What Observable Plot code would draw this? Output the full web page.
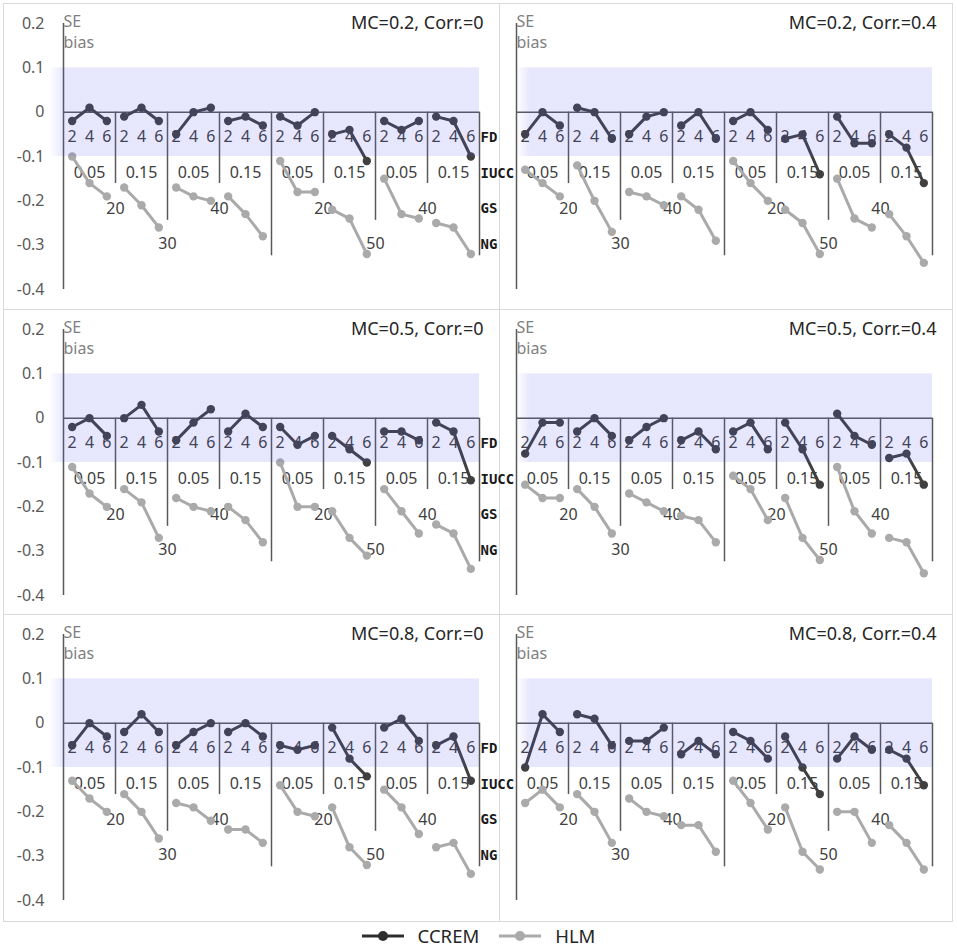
<!DOCTYPE html>
<html><head><meta charset="utf-8">
<script src="https://cdn.jsdelivr.net/npm/d3@7"></script>
<script src="https://cdn.jsdelivr.net/npm/@observablehq/plot@0.6"></script>
<style>
body{margin:0;background:#fff;font-family:"Noto Sans",sans-serif;}
#root{position:relative;width:957px;height:947px;overflow:hidden;background:#fff;}
.frame{position:absolute;box-sizing:border-box;border:1px solid #d9d9d9;}
.panel{position:absolute;}
.panel svg{overflow:visible;background:transparent;}
#legend{position:absolute;left:0;top:925px;width:957px;height:22px;display:flex;justify-content:center;align-items:center;font-size:18.5px;line-height:22px;color:#262626;font-family:"Noto Sans",sans-serif;}
#legend .item{display:flex;align-items:center;}
</style></head><body><div id="root"></div>
<script>
// ---- category levels (outer to inner: NG, GS, IUCC, FD) ----
const ngLevels = [30, 50];
const gsLevels = [20, 40];
const iuccLevels = ["0.05", "0.15"];
const fdLevels = [2, 4, 6];
const rowLabelNames = ["FD", "IUCC", "GS", "NG"];

const yTicks = [0.2, 0.1, 0, -0.1, -0.2, -0.3, -0.4];
const yTickLabels = ["0.2", "0.1", "0", "-0.1", "-0.2", "-0.3", "-0.4"];

const panelTitles = ["MC=0.2, Corr.=0", "MC=0.2, Corr.=0.4", "MC=0.5, Corr.=0", "MC=0.5, Corr.=0.4", "MC=0.8, Corr.=0", "MC=0.8, Corr.=0.4"];
const models = ["CCREM", "HLM"];

// ---- SE bias values, 24 per panel (order NG30: GS20 [.05 .15], GS40 [.05 .15]; NG50: ...) ----
const ccrem1 = [-0.02,0.01,-0.02, -0.01,0.01,-0.02, -0.05,0,0.01, -0.02,-0.01,-0.03, -0.01,-0.03,0, -0.05,-0.04,-0.11, -0.02,-0.04,-0.02, -0.01,-0.02,-0.10];
const hlm1   = [-0.10,-0.16,-0.19, -0.17,-0.21,-0.26, -0.17,-0.19,-0.20, -0.19,-0.23,-0.28, -0.11,-0.18,-0.18, -0.22,-0.24,-0.32, -0.15,-0.23,-0.24, -0.25,-0.26,-0.32];
const ccrem2 = [-0.05,0,-0.03, 0.01,0,-0.06, -0.05,-0.01,0, -0.03,0,-0.06, -0.02,0,-0.04, -0.06,-0.05,-0.14, -0.01,-0.07,-0.07, -0.05,-0.08,-0.16];
const hlm2   = [-0.13,-0.16,-0.19, -0.12,-0.20,-0.27, -0.18,-0.19,-0.21, -0.19,-0.22,-0.29, -0.11,-0.16,-0.20, -0.22,-0.25,-0.32, -0.15,-0.24,-0.26, -0.23,-0.28,-0.34];
const ccrem3 = [-0.02,0,-0.04, 0,0.03,-0.03, -0.05,-0.01,0.02, -0.03,0.01,-0.02, -0.02,-0.06,-0.04, -0.04,-0.07,-0.10, -0.03,-0.03,-0.05, -0.01,-0.03,-0.14];
const hlm3   = [-0.11,-0.17,-0.20, -0.16,-0.19,-0.27, -0.18,-0.20,-0.21, -0.20,-0.23,-0.28, -0.10,-0.20,-0.20, -0.21,-0.27,-0.31, -0.16,-0.21,-0.26, -0.24,-0.26,-0.34];
const ccrem4 = [-0.08,-0.01,-0.01, -0.03,0,-0.04, -0.05,-0.02,0, -0.05,-0.03,-0.07, -0.03,-0.01,-0.07, -0.01,-0.07,-0.15, 0.01,-0.04,-0.06, -0.09,-0.08,-0.15];
const hlm4   = [-0.15,-0.18,-0.18, -0.16,-0.20,-0.26, -0.17,-0.19,-0.21, -0.22,-0.23,-0.28, -0.13,-0.16,-0.23, -0.18,-0.27,-0.32, -0.11,-0.21,-0.26, -0.27,-0.28,-0.35];
const ccrem5 = [-0.05,0,-0.03, -0.02,0.02,-0.02, -0.05,-0.02,0, -0.02,0,-0.03, -0.05,-0.06,-0.05, -0.01,-0.08,-0.12, -0.01,0.01,-0.04, -0.05,-0.03,-0.13];
const hlm5   = [-0.13,-0.17,-0.20, -0.16,-0.20,-0.26, -0.18,-0.19,-0.22, -0.24,-0.24,-0.27, -0.14,-0.20,-0.21, -0.19,-0.28,-0.32, -0.15,-0.19,-0.25, -0.28,-0.27,-0.34];
const ccrem6 = [-0.10,0.02,-0.02, 0.02,0.01,-0.05, -0.04,-0.04,-0.01, -0.07,-0.04,-0.07, -0.02,-0.04,-0.08, -0.03,-0.10,-0.16, -0.08,-0.03,-0.06, -0.06,-0.08,-0.14];
const hlm6   = [-0.18,-0.15,-0.19, -0.16,-0.20,-0.27, -0.17,-0.20,-0.21, -0.23,-0.23,-0.29, -0.13,-0.18,-0.24, -0.19,-0.29,-0.33, -0.20,-0.20,-0.27, -0.23,-0.27,-0.33];

const ccremSeries = [ccrem1, ccrem2, ccrem3, ccrem4, ccrem5, ccrem6];
const hlmSeries = [hlm1, hlm2, hlm3, hlm4, hlm5, hlm6];

// ---- styling / layout ----
const colors = {CCREM: "#404040", HLM: "#aaaaaa"};
const colLeft = [3, 499], colWidth = [496, 453], colMarginLeft = [60, 17];
const rowTop = [3, 309, 614], rowFrameH = [307, 306, 308];
const svgH = 306;
const rowOffsets = [25, 61, 96.5, 132]; // px below the zero line for FD, IUCC, GS, NG label rows
const dividerEnds = {iucc: -0.161, gs: -0.244, ng: -0.324};

const root = document.getElementById("root");

// category table
const cats = [];
for (const ng of ngLevels) for (const gs of gsLevels) for (const iu of iuccLevels) for (const fd of fdLevels) {
  cats.push({ng, gs, iu, fd});
}
const nCat = cats.length;
const xMin = -0.5, xMax = nCat - 0.5;

// label tables
const fdLab = cats.map((c, i) => ({x: i, y: 0, t: String(c.fd)}));
const iuLab = [], gsLab = [], ngLab = [];
const iuDiv = [], gsDiv = [], ngDiv = [];
for (let g = 0; g < nCat / 3; g++) iuLab.push({x: g * 3 + 1, y: 0, t: cats[g * 3].iu});
for (let k = 0; k < nCat / 6; k++) {
  gsLab.push({x: k * 6 + 2.5, y: 0, t: String(cats[k * 6].gs)});
  iuDiv.push({x: k * 6 + 2.5});
}
for (let k = 0; k < nCat / 12; k++) {
  ngLab.push({x: k * 12 + 5.5, y: 0, t: String(cats[k * 12].ng)});
  gsDiv.push({x: k * 12 + 5.5});
  ngDiv.push({x: k * 12 + 11.5});
}

function makePanel(p) {
  const col = p % 2, row = Math.floor(p / 2);
  const W = colWidth[col], ML = colMarginLeft[col];
  const data = [];
  cats.forEach((c, i) => {
    data.push({idx: i, grp: Math.floor(i / 3), model: "HLM", value: hlmSeries[p][i]});
    data.push({idx: i, grp: Math.floor(i / 3), model: "CCREM", value: ccremSeries[p][i]});
  });
  const gid = "bandgrad" + p;
  const bandX1 = col === 0 ? -1.3 : xMin;
  const band = [{x1: bandX1, x2: xMax, y1: -0.1, y2: 0.1}];
  const txt = {fontSize: 16, fill: "#404040"};
  const marks = [
    Plot.text(fdLab, {x: "x", y: "y", text: "t", dy: rowOffsets[0], ...txt}),
    Plot.text(iuLab, {x: "x", y: "y", text: "t", dy: rowOffsets[1], ...txt}),
    Plot.text(gsLab, {x: "x", y: "y", text: "t", dy: rowOffsets[2], ...txt}),
    Plot.text(ngLab, {x: "x", y: "y", text: "t", dy: rowOffsets[3], ...txt}),
    Plot.ruleX(iuDiv, {x: "x", y1: 0, y2: dividerEnds.iucc, stroke: "#595959", strokeWidth: 1.5}),
    Plot.ruleX(gsDiv, {x: "x", y1: 0, y2: dividerEnds.gs, stroke: "#595959", strokeWidth: 1.5}),
    Plot.ruleX(ngDiv, {x: "x", y1: 0, y2: dividerEnds.ng, stroke: "#595959", strokeWidth: 1.5}),
    Plot.ruleY([0], {x1: xMin, x2: xMax, stroke: "#595959", strokeWidth: 1.5}),
    Plot.ruleX([xMin], {y1: yTicks[0], y2: yTicks[yTicks.length - 1], stroke: "#595959", strokeWidth: 1.5}),
  ];
  for (const m of ["HLM", "CCREM"]) {
    const d = data.filter(r => r.model === m);
    marks.push(Plot.line(d, {x: "idx", y: "value", z: "grp", stroke: colors[m], strokeWidth: 3}));
    marks.push(Plot.dot(d, {x: "idx", y: "value", r: 4.2, fill: colors[m], stroke: "none"}));
  }
  marks.push(Plot.rect(band, {x1: "x1", x2: "x2", y1: "y1", y2: "y2", fill: `url(#${gid})`}));
  marks.push(Plot.text([{x: xMax, y: yTicks[0], t: panelTitles[p]}], {x: "x", y: "y", text: "t", textAnchor: "end", dx: 4, fontSize: 18, fill: "#262626"}));
  marks.push(Plot.text([{x: xMin, y: yTicks[0], t: "SE\nbias"}], {x: "x", y: "y", text: "t", textAnchor: "start", lineAnchor: "middle", dy: 7, lineHeight: 1.3, fontSize: 16, fill: "#7f7f7f"}));
  if (col === 0) {
    marks.push(Plot.axisY({ticks: yTicks, tickFormat: d => yTickLabels[yTicks.indexOf(d)], tickSize: 0, tickPadding: 19, fontSize: 16, fill: "#595959", label: null}));
    rowLabelNames.forEach((name, k) => {
      marks.push(Plot.text([{x: xMax, y: 0, t: name}], {x: "x", y: "y", text: "t", dy: rowOffsets[k], dx: 1, textAnchor: "start", fontSize: 14, fontWeight: "bold", fontFamily: "DejaVu Sans Mono", fill: "#1a1a1a"}));
    });
  }
  const svg = Plot.plot({
    width: W, height: svgH,
    marginLeft: ML, marginRight: 20, marginTop: 20, marginBottom: 20,
    style: {fontFamily: "Noto Sans", background: "transparent", overflow: "visible"},
    x: {type: "linear", domain: [xMin, xMax], axis: null},
    y: {domain: [yTicks[yTicks.length - 1], yTicks[0]], axis: null},
    marks
  });
  // gradient for the band's soft left edge
  const NS = "http://www.w3.org/2000/svg";
  const defs = document.createElementNS(NS, "defs");
  const lg = document.createElementNS(NS, "linearGradient");
  lg.setAttribute("id", gid);
  lg.setAttribute("x1", "0"); lg.setAttribute("x2", "1"); lg.setAttribute("y1", "0"); lg.setAttribute("y2", "0");
  [[0, 0], [0.034, 0.14], [1, 0.14]].forEach(([o, a]) => {
    const s = document.createElementNS(NS, "stop");
    s.setAttribute("offset", o);
    s.setAttribute("stop-color", "rgb(80,80,240)");
    s.setAttribute("stop-opacity", a);
    lg.appendChild(s);
  });
  defs.appendChild(lg);
  svg.insertBefore(defs, svg.firstChild);

  const frame = document.createElement("div");
  frame.className = "frame";
  Object.assign(frame.style, {left: colLeft[col] + "px", top: rowTop[row] + "px", width: (W + 1) + "px", height: rowFrameH[row] + "px"});
  root.appendChild(frame);
  const holder = document.createElement("div");
  holder.className = "panel";
  Object.assign(holder.style, {left: colLeft[col] + "px", top: rowTop[row] + "px", width: W + "px", height: svgH + "px"});
  holder.appendChild(svg);
  return holder;
}

const holders = panelTitles.map((_, p) => makePanel(p));
holders.forEach(h => root.appendChild(h));

// legend
const legend = document.createElement("div");
legend.id = "legend";
models.forEach((m, i) => {
  const item = document.createElement("div");
  item.className = "item";
  item.style.marginLeft = i ? "20px" : "0";
  const stroke = m === "CCREM" ? "#2e2e2e" : colors.HLM;
  item.innerHTML = `<svg width="42" height="14"><line x1="0" x2="42" y1="7" y2="7" stroke="${stroke}" stroke-width="3"/><circle cx="21" cy="7" r="5" fill="${stroke}"/></svg><span style="margin-left:14px">${m}</span>`;
  legend.appendChild(item);
});
root.appendChild(legend);
</script>
</body></html>
